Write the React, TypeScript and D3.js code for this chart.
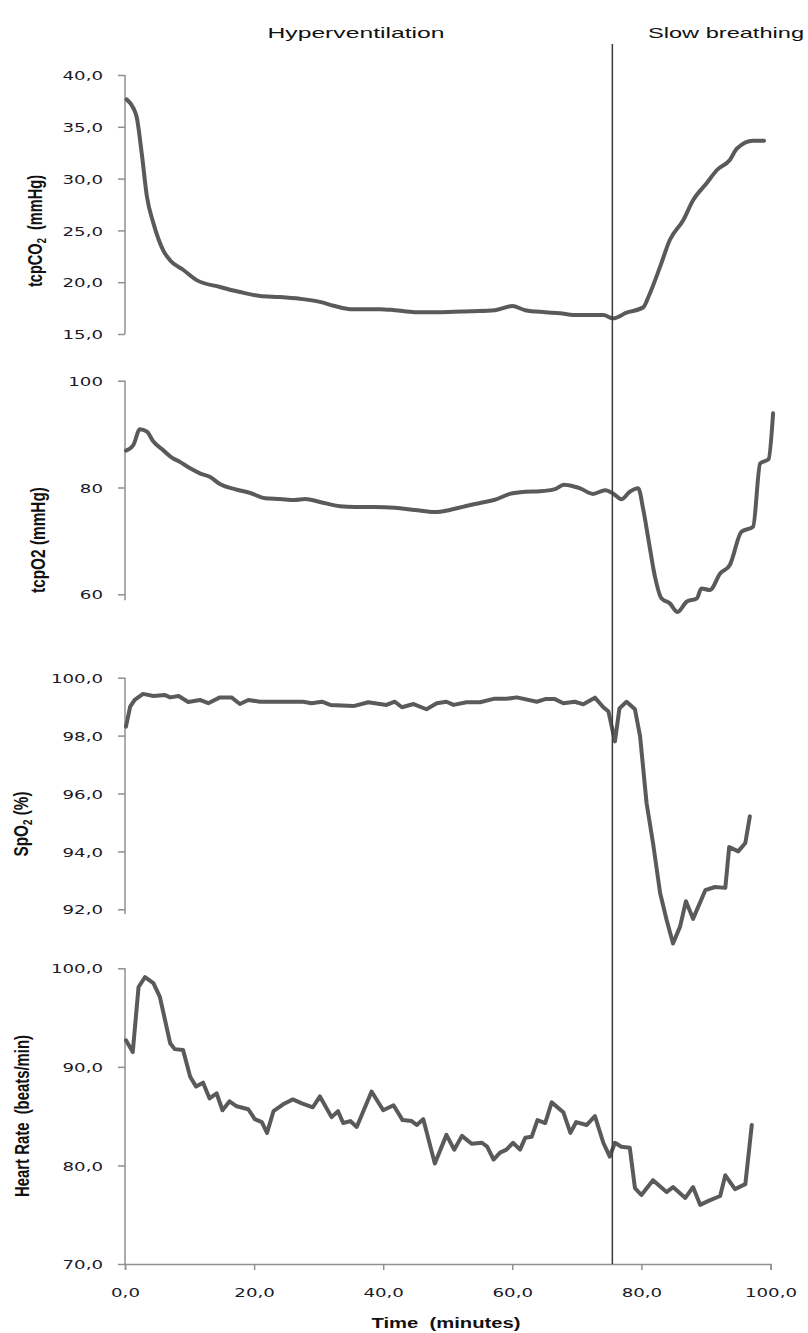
import React, { useEffect, useRef } from 'react'
import * as d3 from 'd3'

// time axis (minutes)
const timeTicks = [0, 20, 40, 60, 80, 100]
const phaseChange = 75.5
const phaseLabels = ['Hyperventilation', 'Slow breathing']

const co2Ticks = [15, 20, 25, 30, 35, 40]
const o2Ticks = [60, 80, 100]
const spo2Ticks = [92, 94, 96, 98, 100]
const hrTicks = [70, 80, 90, 100]

// [minute, value]
const tcpco2 = [
  [0.25, 37.65], [1.3, 36.8], [1.8, 35.97], [2.6, 32.4], [3.4, 28.25], [4.4, 25.7], [5.9, 23.1],
  [7.0, 22.1], [9.0, 21.2], [11.1, 20.2], [14.7, 19.54], [17.8, 19.05], [20.9, 18.67], [24.0, 18.57],
  [27.1, 18.4], [30.2, 18.1], [32.5, 17.7], [34.9, 17.4], [39.5, 17.4], [41.8, 17.3], [44.9, 17.1],
  [48.8, 17.1], [53.4, 17.2], [57.3, 17.3], [60.0, 17.7], [62.0, 17.3], [65.1, 17.1], [67.4, 17.0],
  [69.5, 16.83], [74.1, 16.83], [75.6, 16.51], [77.7, 17.06], [80.3, 17.58], [81.1, 18.6], [82.9, 21.5],
  [84.4, 24.07], [86.5, 26.0], [88.0, 27.9], [90.1, 29.55], [91.7, 30.83], [93.7, 31.8], [94.8, 32.9],
  [97.3, 33.66], [99.0, 33.66],
]

const tcpo2 = [
  [0.15, 86.9], [1.3, 87.96], [2.3, 90.9], [3.4, 90.45], [4.4, 88.6], [5.9, 87.0], [7.2, 85.65],
  [8.5, 84.8], [10.1, 83.6], [11.6, 82.66], [13.2, 81.97], [14.7, 80.65], [17.0, 79.7], [19.4, 78.97],
  [21.7, 78.0], [24.0, 77.85], [26.3, 77.66], [27.9, 77.85], [30.2, 77.3], [33.3, 76.5], [35.6, 76.35],
  [38.7, 76.35], [41.8, 76.2], [44.9, 75.8], [48.0, 75.4], [50.3, 75.8], [52.7, 76.5], [55.0, 77.1],
  [57.3, 77.7], [59.6, 78.8], [62.0, 79.2], [64.3, 79.3], [66.6, 79.7], [68.0, 80.5], [69.5, 80.2],
  [70.5, 79.85], [72.5, 78.8], [74.4, 79.5], [75.7, 78.8], [76.9, 77.8], [78.2, 79.2], [79.5, 79.85],
  [80.3, 75.8], [81.1, 70.2], [82.1, 63.3], [83.1, 59.25], [84.4, 58.3], [85.6, 56.7], [87.0, 58.6],
  [88.6, 59.25], [89.3, 61.1], [90.6, 60.8], [92.2, 63.9], [93.7, 65.5], [95.5, 71.7], [97.3, 72.65],
  [98.4, 84.5], [99.7, 85.3], [100.4, 93.9],
]

const spo2 = [
  [0.15, 98.31], [0.8, 99.0], [1.5, 99.23], [2.8, 99.44], [4.4, 99.37], [6.2, 99.4], [7.0, 99.32],
  [8.3, 99.37], [9.8, 99.16], [11.6, 99.23], [12.9, 99.12], [14.7, 99.32], [16.5, 99.32], [17.8, 99.09],
  [19.1, 99.23], [20.9, 99.17], [27.6, 99.17], [28.9, 99.12], [30.5, 99.17], [31.8, 99.06], [35.4, 99.02],
  [37.7, 99.15], [40.5, 99.06], [41.8, 99.17], [42.9, 98.98], [44.7, 99.09], [46.7, 98.91], [48.3, 99.12],
  [49.8, 99.17], [50.9, 99.06], [52.9, 99.15], [55.0, 99.15], [57.1, 99.27], [59.1, 99.27], [60.7, 99.32],
  [63.8, 99.17], [65.1, 99.26], [66.6, 99.26], [67.9, 99.12], [69.7, 99.17], [71.0, 99.08], [72.8, 99.31],
  [74.1, 98.98], [74.9, 98.83], [75.9, 97.8], [76.6, 98.94], [77.7, 99.17], [79.0, 98.91], [79.8, 97.97],
  [80.8, 95.67], [81.8, 94.29], [82.9, 92.56], [83.9, 91.64], [84.9, 90.82], [86.0, 91.41], [86.9, 92.28],
  [88.0, 91.67], [89.9, 92.66], [91.4, 92.77], [93.0, 92.74], [93.6, 94.15], [95.0, 94.0], [96.1, 94.29],
  [96.8, 95.21],
]

const heartRate = [
  [0.15, 92.7], [1.2, 91.5], [2.1, 98.1], [3.1, 99.1], [4.4, 98.5], [5.4, 97.1], [7.0, 92.4], [7.7, 91.8],
  [9.0, 91.7], [10.1, 89.0], [11.0, 88.0], [12.1, 88.4], [13.1, 86.8], [14.2, 87.3], [15.1, 85.6],
  [16.2, 86.5], [17.3, 86.0], [19.1, 85.7], [20.1, 84.7], [21.2, 84.4], [22.0, 83.3], [23.0, 85.5],
  [24.5, 86.2], [26.0, 86.7], [27.4, 86.3], [29.1, 85.9], [30.2, 87.0], [32.0, 84.9], [33.0, 85.5],
  [33.8, 84.3], [34.9, 84.5], [35.9, 83.9], [38.2, 87.5], [40.0, 85.6], [41.6, 86.1], [43.0, 84.6],
  [44.4, 84.5], [45.2, 84.1], [46.2, 84.7], [48.0, 80.2], [49.8, 83.1], [51.0, 81.6], [52.2, 83.0],
  [53.7, 82.2], [55.3, 82.3], [56.1, 81.9], [57.1, 80.6], [58.1, 81.3], [59.1, 81.6], [60.1, 82.3],
  [61.2, 81.6], [62.0, 82.8], [63.0, 82.9], [63.9, 84.6], [65.1, 84.3], [66.1, 86.4], [67.9, 85.4],
  [69.0, 83.3], [69.9, 84.4], [71.5, 84.1], [72.8, 85.0], [74.1, 82.3], [75.1, 80.9], [75.9, 82.3],
  [76.9, 81.9], [78.2, 81.8], [79.0, 77.7], [80.0, 77.0], [81.8, 78.5], [83.9, 77.3], [84.9, 77.8],
  [86.8, 76.7], [88.0, 77.8], [89.1, 76.0], [90.4, 76.4], [92.2, 76.9], [93.0, 79.0], [94.5, 77.6],
  [96.1, 78.1], [97.1, 84.1],
]

const comma = d3.formatLocale({ decimal: ',', thousands: '.', grouping: [3], currency: ['', ''] })
const fmt1 = comma.format('.1f')
const fmt0 = comma.format('d')

const W = 808
const H = 1333
const LINE = '#5a5a5a'
const AXIS = '#909090'
const STRETCH = 1.4

const App = () => {
  const svgRef = useRef<SVGSVGElement>(null)

  useEffect(() => {
    const svg = d3.select(svgRef.current)
    svg.selectAll('*').remove()

    const x = d3.scaleLinear().domain([0, 100]).range([125, 770.5])

    const panels = [
      { data: tcpco2, ticks: co2Ticks, domain: [15, 40], range: [334, 75], ext: 0, fmt: fmt1, smooth: true,
        label: ['tcpCO', '2', '  (mmHg)'], lx: 35, ly: 231, len: 112 },
      { data: tcpo2, ticks: o2Ticks, domain: [60, 100], range: [594.3, 380.7], ext: 6, fmt: fmt0, smooth: true,
        label: ['tcpO2 (mmHg)'], lx: 38, ly: 540, len: 106 },
      { data: spo2, ticks: spo2Ticks, domain: [92, 100], range: [909.3, 677.7], ext: 5, fmt: fmt1, smooth: false,
        label: ['SpO', '2', ' (%)'], lx: 21, ly: 824, len: 65 },
      { data: heartRate, ticks: hrTicks, domain: [70, 100], range: [1264, 968.3], ext: 0, fmt: fmt1, smooth: false,
        label: ['Heart Rate  (beats/min)'], lx: 22, ly: 1116, len: 162 },
    ]

    panels.forEach(p => {
      const y = d3.scaleLinear().domain(p.domain).range(p.range)

      const ax = svg.append('g')
        .attr('transform', `translate(${x(0)},0)`)
        .call(d3.axisLeft(y).tickValues(p.ticks).tickSize(7).tickFormat(p.fmt as any))
      ax.select('.domain').remove()
      ax.selectAll('line').attr('stroke', AXIS).attr('stroke-width', 1.5)
      ax.selectAll('text')
        .attr('x', null)
        .attr('dy', '0.36em')
        .attr('transform', `translate(-22,0) scale(${STRETCH},1)`)
        .attr('font-family', 'DejaVu Sans, Verdana, sans-serif')
        .attr('font-size', 13)
        .attr('fill', '#1a1a2a')
      ax.append('line')
        .attr('x1', 0).attr('x2', 0)
        .attr('y1', y(p.domain[1]))
        .attr('y2', y(p.domain[0]) + p.ext)
        .attr('stroke', AXIS)
        .attr('stroke-width', 1.5)

      const line = d3.line<number[]>()
        .x(d => x(d[0]))
        .y(d => y(d[1]))
        .curve(p.smooth ? d3.curveMonotoneX : d3.curveLinear)
      svg.append('path')
        .datum(p.data)
        .attr('d', line)
        .attr('fill', 'none')
        .attr('stroke', LINE)
        .attr('stroke-width', 4)
        .attr('stroke-linejoin', 'round')
        .attr('stroke-linecap', 'round')

      const t = svg.append('text')
        .attr('transform', `translate(${p.lx},${p.ly}) scale(${STRETCH},1) rotate(-90)`)
        .attr('text-anchor', 'middle')
        .attr('dy', '0.35em')
        .attr('font-family', 'Liberation Sans, Arial, sans-serif')
        .attr('font-weight', 'bold')
        .attr('font-size', 14)
        .attr('fill', '#111')
        .attr('textLength', p.len)
        .attr('lengthAdjust', 'spacingAndGlyphs')
        .style('white-space', 'pre')
      p.label.forEach((s, i) => {
        const ts = t.append('tspan').text(s)
        if (p.label.length === 3 && i === 1) ts.attr('font-size', 9).attr('dy', '3')
        if (p.label.length === 3 && i === 2) ts.attr('dy', '-3')
      })
    })

    // x axis
    const xa = svg.append('g')
      .attr('transform', 'translate(0,1264)')
      .call(d3.axisBottom(x).tickValues(timeTicks).tickSize(6).tickFormat(fmt1 as any))
    xa.select('.domain').attr('stroke', AXIS).attr('stroke-width', 1.5)
    xa.selectAll('line').attr('stroke', AXIS).attr('stroke-width', 1.5)
    xa.selectAll('text')
      .attr('y', null)
      .attr('dy', null)
      .attr('transform', `translate(0,33) scale(${STRETCH},1)`)
      .attr('font-family', 'DejaVu Sans, Verdana, sans-serif')
      .attr('font-size', 13)
      .attr('fill', '#1a1a2a')

    svg.append('text')
      .attr('x', 446).attr('y', 1328)
      .attr('text-anchor', 'middle')
      .attr('font-family', 'Liberation Sans, Arial, sans-serif')
      .attr('font-weight', 'bold')
      .attr('font-size', 14)
      .attr('fill', '#111')
      .attr('textLength', 149)
      .attr('lengthAdjust', 'spacingAndGlyphs')
      .style('white-space', 'pre')
      .text('Time  (minutes)')

    // phase boundary
    svg.append('line')
      .attr('x1', x(phaseChange)).attr('x2', x(phaseChange))
      .attr('y1', 44).attr('y2', 1264)
      .attr('stroke', '#3c3c3c')
      .attr('stroke-width', 1.5)

    const phasePos = [[356, 177], [726, 156]]
    phaseLabels.forEach((s, i) => {
      svg.append('text')
        .attr('x', phasePos[i][0]).attr('y', 38)
        .attr('text-anchor', 'middle')
        .attr('font-family', 'Liberation Sans, Arial, sans-serif')
        .attr('font-size', 15)
        .attr('fill', '#111')
        .attr('textLength', phasePos[i][1])
        .attr('lengthAdjust', 'spacingAndGlyphs')
        .text(s)
    })
  }, [])

  return (
    <svg ref={svgRef} width={W} height={H}
      style={{ position: 'absolute', left: 0, top: 0, background: '#fff' }} />
  )
}

export default App
